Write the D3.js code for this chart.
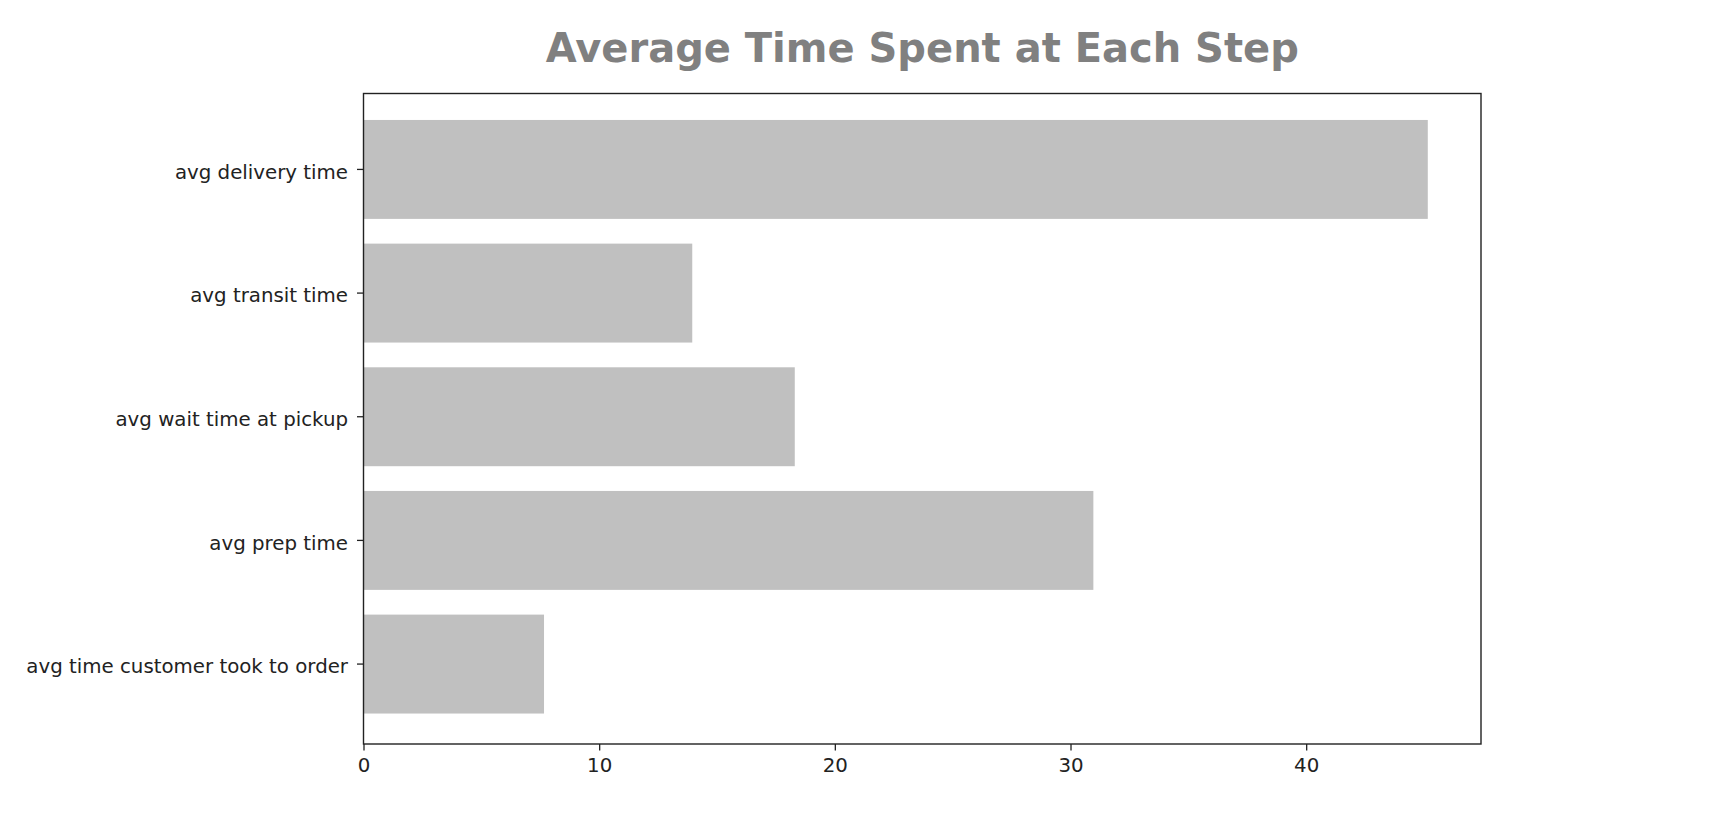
<!DOCTYPE html>
<html>
<head>
<meta charset="utf-8">
<script src="https://cdn.jsdelivr.net/npm/d3@7"></script>
<style>
  body { margin: 0; background: #fff; }
  svg text { font-family: "DejaVu Sans", sans-serif; }
</style>
</head>
<body>
<div id="chart"></div>
<script>

var steps = ["avg delivery time", "avg transit time", "avg wait time at pickup", "avg prep time", "avg time customer took to order"];
var avgMinutes = [45.16, 13.95, 18.3, 30.97, 7.66];
var xTicks = [0, 10, 20, 30, 40];
var chartTitle = "Average Time Spent at Each Step";

var data = steps.map(function(s, i) { return { step: s, value: avgMinutes[i] }; });

var margin = {
    left: 363.5,
    right: 243,
    top: 93.5,
    bottom: 88
};

var W = 1724, H = 832;
var width = W - margin.left - margin.right;
var height = H - margin.top - margin.bottom;

var SVG = d3.select("#chart")
    .append("svg")
    .attr("width", W)
    .attr("height", H);

var svg = SVG.append("g")
    .attr("transform", "translate(" + margin.left + "," + margin.top + ")");

var xScale = d3.scaleLinear()
    .domain([0, d3.max(avgMinutes) * 1.05])
    .range([0, width]);

// bars sit a touch higher than centred in the reference
var yScale = d3.scaleBand()
    .domain(steps)
    .range([0, height - 4])
    .paddingInner(0.2)
    .paddingOuter(0.214);

svg.selectAll(".bar")
    .data(data).enter()
    .append("rect")
    .attr("class", "bar")
    .attr("x", xScale(0))
    .attr("y", function(d) { return yScale(d.step); })
    .attr("width", function(d) { return xScale(d.value) - xScale(0); })
    .attr("height", yScale.bandwidth())
    .attr("fill", "#c0c0c0");

var xAxis = d3.axisBottom(xScale).tickValues(xTicks).tickFormat(d3.format("d")).tickSize(6.5).tickPadding(4);
var yAxis = d3.axisLeft(yScale).tickSize(6.5).tickPadding(9);

var gx = svg.append("g")
    .attr("class", "xAxis")
    .attr("transform", "translate(0," + height + ")")
    .call(xAxis);

var gy = svg.append("g")
    .attr("class", "yAxis")
    .call(yAxis);

[gx, gy].forEach(function(g) {
    g.select(".domain").remove();
    g.selectAll("line").attr("stroke", "#222").attr("stroke-width", 1.3);
    g.selectAll("text").attr("fill", "#222").style("font-size", "19.8px");
});
gx.selectAll("text").attr("dy", "0.9em");
gy.selectAll("text").attr("dy", "0.47em");

// frame
svg.append("rect")
    .attr("x", 0)
    .attr("y", 0)
    .attr("width", width)
    .attr("height", height)
    .attr("fill", "none")
    .attr("stroke", "#222")
    .attr("stroke-width", 1.4);

SVG.append("text")
    .attr("x", margin.left + width / 2)
    .attr("y", 62)
    .style("text-anchor", "middle")
    .style("font-size", "40px")
    .style("font-weight", "bold")
    .attr("fill", "#808080")
    .text(chartTitle);

</script>
</body>
</html>
